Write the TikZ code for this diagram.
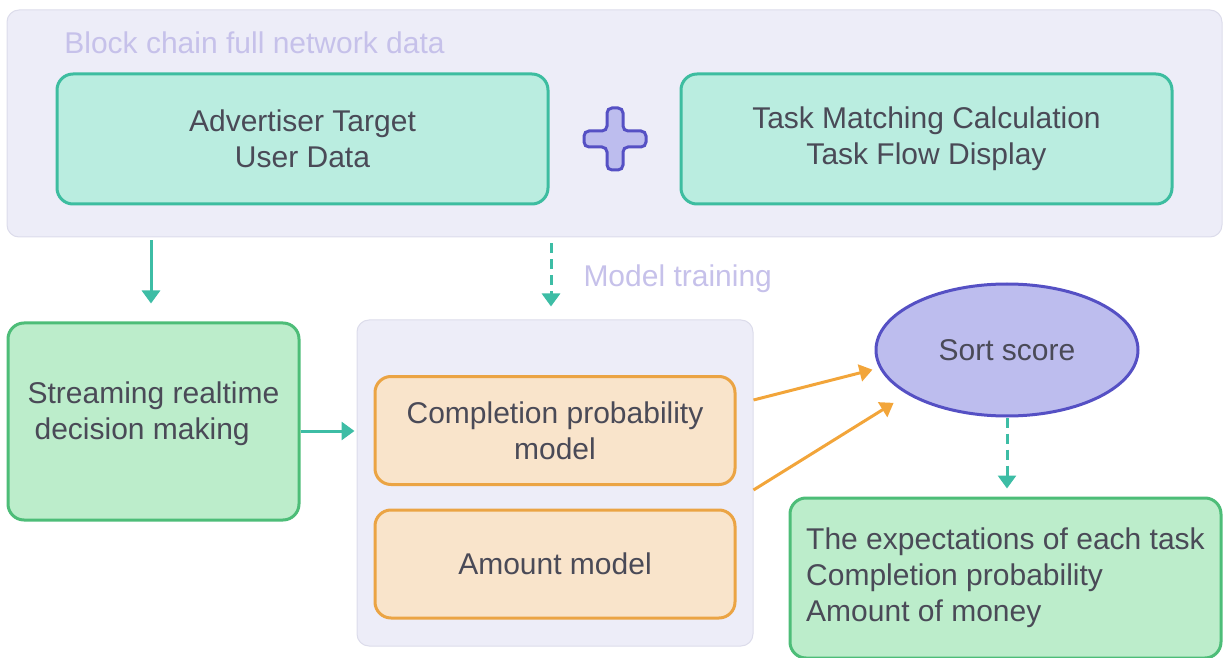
\documentclass[tikz,border=0pt]{standalone}
\usepackage{fontspec}
\setmainfont{Liberation Sans}
\usepackage{tikz}
\usetikzlibrary{arrows.meta,shapes.geometric}

\definecolor{panelfill}{HTML}{EDEDF8}
\definecolor{panelline}{HTML}{DCDCEB}
\definecolor{tealfill}{HTML}{BAEDE0}
\definecolor{tealline}{HTML}{3DBDA0}
\definecolor{greenfill}{HTML}{BCEDCB}
\definecolor{greenline}{HTML}{4DBD78}
\definecolor{orangefill}{HTML}{F9E4CB}
\definecolor{orangeline}{HTML}{EBA444}
\definecolor{purplefill}{HTML}{BDBDEE}
\definecolor{purpleline}{HTML}{5550C4}
\definecolor{txt}{HTML}{4A4A57}
\definecolor{lighttxt}{HTML}{C6C1EA}
\definecolor{tealarrow}{HTML}{3DBDA5}
\definecolor{orangearrow}{HTML}{F2A53A}

\begin{document}
\begin{tikzpicture}
[
x=0.5pt, y=-0.5pt,
every node/.style={font=\fontsize{15}{18}\selectfont, text=txt, inner sep=0pt},
panel/.style={draw=panelline, line width=0.5pt, fill=panelfill, rounded corners=6pt},
databox/.style={draw=tealline, fill=tealfill, line width=1.5pt, rounded corners=8pt,
  minimum width=245.5pt, minimum height=65pt, align=center},
greenbox/.style={draw=greenline, fill=greenfill, line width=1.5pt, rounded corners=8pt},
modelbox/.style={draw=orangeline, fill=orangefill, line width=1.5pt, rounded corners=8pt,
  minimum width=180pt, minimum height=54pt, align=center},
light/.style={text=lighttxt},
tealarr/.style={draw=tealarrow, line width=1.5pt, -{Triangle[width=9pt,length=6.5pt]}},
orangearr/.style={draw=orangearrow, line width=1.5pt, -{Triangle[width=8.5pt,length=6.5pt]}},
plus/.style={draw=purpleline, fill=purplefill, line width=1.5pt, rounded corners=2.5pt}
]
\useasboundingbox (0,0) rectangle (1223,658);

% top panel
\node[panel, minimum width=607.5pt, minimum height=113.5pt] (top) at (614.5,123.5) {};
\node[light, anchor=west] (toptitle) at (64,43) {Block chain full network data};
\node[databox] (adv) at (302.5,139) {Advertiser Target\\User Data};
\node[databox] (task) at (926.5,139) {Task Matching Calculation\\Task Flow Display};
\coordinate (plusc) at (615,139);
\draw[plus] (plusc) ++(-8,-31) -- ++(16,0) -- ++(0,23) -- ++(23,0) -- ++(0,16)
  -- ++(-23,0) -- ++(0,23) -- ++(-16,0) -- ++(0,-23) -- ++(-23,0) -- ++(0,-16)
  -- ++(23,0) -- cycle;

% lower row
\node[greenbox, minimum width=145.5pt, minimum height=98.5pt] (stream) at (153.5,421.5) {};
\node[align=left] (streamtxt) at ([yshift=4pt]stream.center) {Streaming realtime\\\hspace{3.5pt}decision making};

\node[panel, minimum width=198pt, minimum height=163pt] (models) at (555,483) {};
\node[modelbox] (prob) at (555,430.5) {Completion probability\\model};
\node[modelbox] (amount) at (555,564) {Amount model};

\node[ellipse, draw=purpleline, fill=purplefill, line width=1.5pt,
  minimum width=131pt, minimum height=66pt] (sort) at (1007,350) {Sort score};

\node[greenbox, minimum width=215.5pt, minimum height=80pt, align=left] (result) at (1005.5,578)
  {The expectations of each task\\Completion probability\\Amount of money};

% connectors
\draw[tealarr, shorten <=1.5pt, shorten >=9pt] (top.south -| 151,0) -- (stream.north -| 151,0);
\draw[tealarr, dash pattern=on 5pt off 3pt, shorten <=3pt, shorten >=6.5pt]
  (top.south -| 551,0) -- node[light, anchor=west, xshift=15.5pt] (train) {Model training} (models.north -| 551,0);
\draw[tealarr] (stream.east |- 0,431) -- ([xshift=-1pt]models.west |- 0,431);
\draw[orangearr, shorten >=3.5pt] ([yshift=41.5pt]models.east) -- (sort.188);
\draw[orangearr, shorten >=8pt] ([yshift=-3.5pt]models.east) -- (sort.204);
\draw[tealarr, dash pattern=on 5pt off 3pt, shorten >=4pt] (sort.south) -- (result.north -| sort.south);
\end{tikzpicture}
\end{document}
